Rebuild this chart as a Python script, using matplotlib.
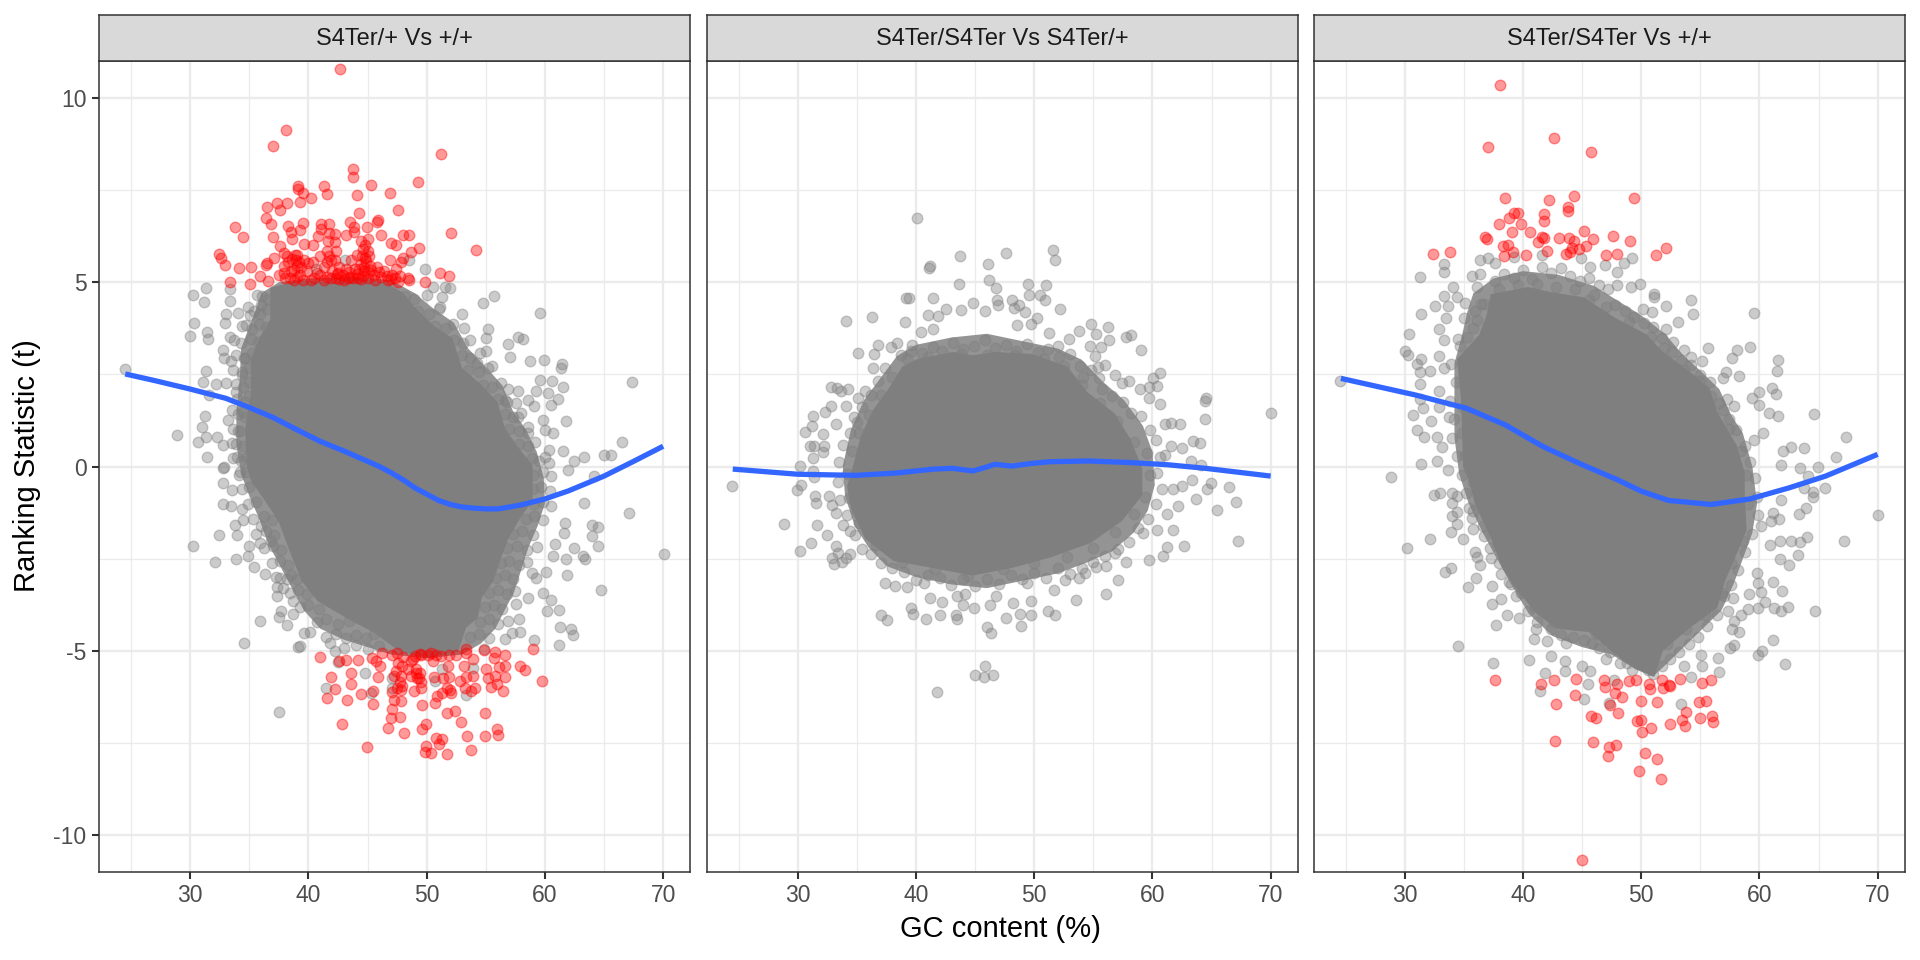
import numpy as np
import matplotlib
matplotlib.use('Agg')
import matplotlib.pyplot as plt

plt.rcParams['font.family'] = ['Liberation Sans', 'DejaVu Sans']

titles = ['S4Ter/+ Vs +/+', 'S4Ter/S4Ter Vs S4Ter/+', 'S4Ter/S4Ter Vs +/+']
x_major = [30, 40, 50, 60, 70]
x_minor = [25, 35, 45, 55, 65]
y_major = [-10, -5, 0, 5, 10]
y_minor = [-7.5, -2.5, 2.5, 7.5]
y_labels = ['-10', '-5', '0', '5', '10']

# outline of the area where the points overlap into solid grey
p1_core = [(37.0,4.79),(39.3,4.97),(41.94,4.92),(43.9,5.04),(46.55,4.9),(47.86,4.65),(48.85,4.25),(50.5,3.75),(51.97,3.43),(52.8,2.62),(54.44,2.17),(55.76,1.72),(56.41,1.0),(57.4,0.54),(58.72,0.0),(58.72,-0.36),(58.72,-0.9),(57.73,-1.35),(56.74,-1.89),(56.09,-2.43),(55.43,-3.07),(54.44,-3.52),(54.11,-4.06),(53.13,-4.33),(52.47,-4.96),(50.16,-5.1),(47.86,-4.96),(45.56,-4.42),(43.91,-4.15),(40.95,-3.6),(39.64,-3.07),(38.82,-2.43),(37.66,-1.44),(36.35,-0.81),(35.36,-0.36),(35.03,0),(34.87,0.99),(35.36,1.99),(35.36,2.89),(36.02,3.43),(37.0,3.97)]
p2_core = [(34.9,0),(35.56,0.8),(36.55,1.48),(37.86,2.06),(39.01,2.65),(40.16,2.84),(43.13,3.03),(44.77,2.94),(46.74,3.03),(49.7,2.98),(52.66,2.65),(54.31,1.97),(56.61,1.39),(57.93,0.71),(58.91,-0.07),(58.91,-0.75),(57.27,-1.42),(54.64,-2.01),(51.35,-2.39),(48.06,-2.68),(44.77,-2.88),(41.48,-2.68),(38.19,-2.49),(35.89,-1.91),(34.74,-1.13),(34.41,-0.55)]
p3_core = [(37.47,4.61),(40.43,4.79),(42.4,4.65),(45.03,4.52),(47.66,3.97),(50.3,3.52),(51.61,3.07),(54.24,2.44),(55.56,2.08),(56.22,1.45),(57.86,0.54),(58.52,-0.18),(58.52,-0.81),(58.68,-1.71),(57.86,-2.34),(56.88,-3.07),(56.22,-3.79),(53.91,-4.33),(51.61,-4.96),(50.97,-5.6),(49.65,-5.42),(48,-5.05),(45.69,-4.42),(43.05,-4.33),(41.41,-3.97),(39.77,-3.34),(38.45,-2.71),(37.47,-1.89),(36.15,-0.99),(35.66,-0.36),(35.17,0),(35,1.81),(34.67,2.89),(36.48,3.52),(37.14,4.07)]

# wider outline of the band where the points still overlap heavily
p1_band = [(36,4.7),(37.5,5.0),(40,5.1),(44,5.15),(47,5.05),(49,4.7),(50.5,4.3),(52.3,3.9),(53.5,3.2),(55,2.7),(56.4,2.2),(57.3,1.5),(58.4,1.0),(59.3,0.4),(59.9,-0.3),(60,-1),(59.4,-1.6),(58.6,-2.2),(58,-2.8),(57.4,-3.4),(56.6,-3.9),(55.8,-4.4),(54.6,-4.8),(53,-5.1),(50,-5.2),(47,-5.1),(45,-4.9),(43,-4.7),(41,-4.4),(39.6,-3.9),(38.6,-3.3),(37.6,-2.7),(36.6,-2.1),(35.8,-1.4),(35,-0.8),(34.3,-0.2),(33.9,0.6),(33.9,1.5),(34.2,2.4),(34.3,3.2),(35,3.8),(35.6,4.3)]
p2_band = [(33.8,0),(34.5,1.0),(35.6,1.8),(37,2.4),(38.4,3.0),(40,3.3),(43,3.5),(46,3.6),(49,3.4),(52,3.2),(54,2.9),(55.8,2.3),(57.6,1.8),(59.2,1.1),(60,0.4),(60.2,-0.5),(59.6,-1.2),(58.4,-1.8),(56.6,-2.3),(54.5,-2.6),(52,-2.9),(49,-3.1),(46,-3.3),(43,-3.2),(40,-3.0),(37.5,-2.7),(36,-2.2),(34.8,-1.6),(34,-0.8)]
p3_band = [(35.8,4.7),(37.5,5.1),(40,5.3),(43,5.2),(46,4.9),(48,4.5),(50,4.1),(52,3.6),(53.6,3.0),(55,2.6),(56.6,2.1),(57.6,1.4),(58.6,0.9),(59.4,0),(59.8,-1),(59.4,-1.8),(58.6,-2.5),(57.8,-3.2),(56.8,-3.9),(55.2,-4.4),(53.6,-4.9),(52,-5.4),(51,-5.7),(49.5,-5.5),(47.5,-5.1),(45,-4.9),(42.5,-4.6),(40.5,-4.0),(39,-3.2),(37.8,-2.5),(36.6,-1.8),(35.4,-1),(34.6,-0.2),(34.2,0.8),(34.2,1.8),(34.2,2.8),(34.8,3.5),(35.3,4.2)]

p1_grey = [(31.3,4.83),(30.26,4.66),(31.15,4.45),(33.32,4.82),(33.32,4.49),(35.63,4.66),(36.02,4.38),(34.87,4.34),(55.66,4.62),(54.77,4.43),(59.6,4.17),(50.5,4.88),(51.55,4.88),(51.97,4.83),(51.3,4.6),(51.15,4.34),(52.96,4.13),(30.33,3.88),(30.0,3.54),(31.41,3.64),(31.51,3.45),(33.06,4.14),(34.05,4.16),(32.9,3.88),(33.4,3.5),(35.03,4.11),(34.7,3.84),(32.73,3.16),(32.83,2.95),(33.45,2.85),(34.54,2.94),(55.2,3.73),(53.13,3.77),(53.62,3.43),(55.03,3.48),(57.73,3.5),(58.16,3.47),(56.9,3.32),(55.03,3.12),(59.93,2.89),(58.72,2.87),(61.45,2.78),(61.35,2.66),(57.07,2.96),(54.28,2.82),(55.5,2.73),(67.34,2.29),(59.6,2.35),(60.59,2.32),(61.51,2.15),(56.9,2.1),(57.73,2.06),(59.28,2.05),(60.3,1.99),(61.09,1.82),(58.55,1.81),(56.58,1.81),(57.57,1.72),(59.05,1.63),(60.5,1.67),(61.74,1.24),(59.87,1.26),(57.73,1.35),(60.69,0.9),(58.55,0.9),(60.03,0.99),(66.51,0.66),(64.97,0.32),(65.56,0.3),(63.32,0.25),(62.5,0.14),(61.51,0.43),(60.36,0.45),(60.36,0.09),(61.99,-0.09),(64.14,-0.27),
           (24.5,2.65),(31.3,2.59),(31.08,2.3),(32.14,2.23),(33.06,2.26),(33.88,2.03),(31.58,1.94),(34.37,2.48),(33.55,1.54),(31.25,1.36),(31.02,1.08),(28.88,0.86),(30.69,0.66),(31.32,0.79),(32.24,0.81),(32.73,0.59),(33.55,0.65),(31.41,0.25),(33.98,0.27),(32.89,0),(32.73,-0.05),(34.2,-0.14),(33.22,1.26),(34.05,0.95),(34.5,1.49),(35,1.9),
           (32.73,-0.45),(33.55,-0.63),(32.73,-1.01),(33.45,-1.06),(34.38,-1.15),(34.47,-1.44),(33.78,-1.6),(36.02,-1.62),(32.4,-1.85),(33.98,-1.85),(30.23,-2.16),(34.93,-2.16),(35.89,-2.07),(36.79,-2.03),(32.11,-2.59),(33.85,-2.52),(34.87,-2.43),(35.36,-2.72),(36.28,-2.91),(37.27,-3.0),(38.16,-3.05),(37.34,-3.27),(37.84,-3.29),(37.34,-3.52),(38.66,-3.65),(37.67,-3.91),(37.5,-4.09),(38.66,-4.0),(35.89,-4.18),(38.16,-4.29),(39.64,-4.51),(40.16,-4.49),(34.54,-4.8),(39.08,-4.9),(39.3,-4.86),(41.78,-4.78),(42.27,-5.01),(42.5,-5.31),(44.77,-5.6),(41.45,-6.02),(45.3,-6.14),(47.03,-6.0),(47.03,-5.73),(50.66,-5.82),(51.32,-5.5),(53.95,-5.46),(53.35,-6.21),(37.5,-6.66),
           (63.32,-0.99),(67.1,-1.26),(63.98,-1.58),(64.47,-1.65),(63.98,-1.89),(64.47,-2.16),(62.43,-2.21),(61.68,-1.53),(61.58,-1.8),(60.86,-2.1),(70.07,-2.38),(63.26,-2.42),(63.39,-2.52),(61.74,-2.52),(60.69,-2.42),(60.1,-2.87),(58.88,-2.9),(59.21,-3.02),(61.84,-2.93),(64.7,-3.36),(59.87,-3.43),(60.53,-3.61),(60.2,-3.91),(61.18,-3.88),(58.55,-3.56),(57.56,-3.74),(57.79,-4.13),(56.9,-4.19),(61.25,-4.35),(62.24,-4.42),(62.4,-4.58),(57.89,-4.48),(57.23,-4.51),(59.05,-4.72),(61.18,-4.83),(56.58,-4.69),(54.84,-4.96),
           (43.1,5.6),(48.5,5.6),(40.6,5.37),(49.84,5.37)]
# points packed along the edge of the solid area
p1_edge = [(36.1,4.62),(36.6,4.55),(35.4,4.22),(35.9,4.15),(36.5,4.27),(34.4,3.82),(35.2,3.74),(35.8,3.86),(36.4,3.78),(33.7,3.42),(34.3,3.35),(35.1,3.47),(35.7,3.38),(33.9,3.02),(34.6,2.95),(35.2,3.08),(33.6,2.63),(34.4,2.55),(35.0,2.68),(33.9,2.23),(34.5,2.15),(35.0,2.28),(33.95,1.82),(34.6,1.74),(34.0,1.42),(34.6,1.35),(33.6,1.03),(34.2,0.96),(33.9,0.62),(34.5,0.55),(33.6,0.22),(34.3,0.15),(34.8,0.27),(34.1,-0.22),(34.7,-0.15),(34.4,-0.62),(35.0,-0.55),(34.9,-1.02),(35.6,-0.95),(35.3,-1.42),(36.2,-1.35),(36.9,-1.46),(35.6,-1.82),(36.4,-1.75),(37.1,-1.86),(36.2,-2.22),(37.0,-2.15),(37.7,-2.26),(36.9,-2.62),(37.6,-2.55),(38.3,-2.66),(37.6,-3.02),(38.5,-2.95),(39.0,-3.06),(38.4,-3.42),(39.1,-3.35),(39.9,-3.46),(39.3,-3.82),(40.0,-3.75),(40.9,-3.86),(40.7,-4.22),(41.5,-4.15),(42.5,-4.26),(43.4,-4.18),(41.5,-4.62),(42.3,-4.55),(43.2,-4.66),(44.0,-4.58),(44.9,-4.64),(45.5,-4.55),(43.0,-4.92),(44.0,-4.85),(45.0,-4.95),(46.0,-4.88),
           (48.2,4.62),(48.9,4.55),(50.0,4.66),(49.3,4.22),(50.2,4.15),(51.0,4.27),(50.7,3.82),(51.6,3.75),(52.2,3.86),(52.3,3.42),(53.1,3.35),(53.0,3.02),(53.7,2.95),(54.5,3.07),(53.5,2.62),(54.4,2.55),(55.2,2.66),(54.8,2.22),(55.5,2.15),(56.3,2.26),(56.0,1.82),(56.8,1.75),(56.6,1.42),(57.3,1.35),(58.0,1.46),(57.0,1.02),(57.8,0.95),(58.6,1.06),(57.8,0.62),(58.6,0.55),(59.2,0.66),(58.9,0.22),(59.5,0.15),(60.0,0.26),(59.0,-0.22),(59.8,-0.15),(60.5,-0.26),(59.0,-0.62),(59.7,-0.55),(60.4,-0.66),(59.1,-1.02),(59.8,-0.95),(60.5,-1.06),(58.4,-1.42),(59.1,-1.35),(59.8,-1.46),(57.3,-1.82),(58.1,-1.75),(59.0,-1.86),(56.8,-2.22),(57.6,-2.15),(58.5,-2.26),(59.3,-2.18),(56.3,-2.62),(57.0,-2.55),(57.8,-2.66),(58.5,-2.58),(55.9,-3.02),(56.6,-2.95),(57.3,-3.06),(55.3,-3.42),(56.0,-3.35),(56.8,-3.46),(57.5,-3.38),(54.9,-3.82),(55.7,-3.75),(56.4,-3.86),(54.5,-4.22),(55.3,-4.15),(56.0,-4.26),(53.7,-4.62),(54.4,-4.55),(55.3,-4.66)]
p1_red = [(42.66,10.78),(38.09,9.13),(37.04,8.70),(51.25,8.48),(43.78,8.07),(43.78,7.86),(39.11,7.62),(39.14,7.54),(41.32,7.61),(45.3,7.64),(49.28,7.71),(39.57,7.43),(41.55,7.39),(44.08,7.36),(46.9,7.42),(40.23,7.29),(39.28,7.17),(38.19,7.16),(37.3,7.15),(36.51,7.05),(37.6,6.97),(47.57,6.96),(44.28,6.88),(36.38,6.75),(36.81,6.59),(45.86,6.7),(45.76,6.63),(33.82,6.5),(34.5,6.23),(38.26,6.52),(39.57,6.61),(41.05,6.58),(41.74,6.59),(43.55,6.62),(43.85,6.5),(44.93,6.49),(41.02,6.45),(39.31,6.41),(38.52,6.37),(43.85,6.37),(41.71,6.34),(52.07,6.34),(40.82,6.25),(42.2,6.32),(43.16,6.28),(46.15,6.27),(47.96,6.27),(48.49,6.29),(37.01,6.23),(38.59,6.18),(41.61,6.12),(42.27,6.1),(44.41,6.12),(45.07,6.16),(46.94,6.05),(47.4,6.02),(39.64,6.03),(40.36,6.01),(44.77,6.01),(37.57,5.98),(49.38,5.94),(48.68,5.81),(54.21,5.86),(32.4,5.76),(32.57,5.65),(32.96,5.47),(34.14,5.39),(35.13,5.41),(36.41,5.46),(36.5,5.51),(37.07,5.65),(37.89,5.78),(38.82,5.74),(38.98,5.6),
          (37.5,5.2),(37.9,5.45),(38.0,5.1),(38.3,5.55),(38.5,5.3),(38.8,5.05),(39.0,5.75),(39.0,5.45),(39.3,5.2),(39.6,5.6),(39.9,5.3),(40.2,5.05),(40.4,5.55),(40.7,5.25),(41.0,5.7),(41.3,5.4),(41.6,5.15),(41.6,5.85),(41.9,5.6),(42.0,5.3),(42.3,5.85),(42.3,5.1),(42.6,5.4),(42.9,5.2),(43.2,5.35),(43.5,5.15),(43.6,5.6),(43.9,5.35),(44.1,5.75),(44.2,5.1),(44.4,5.5),(44.6,5.9),(44.7,5.3),(44.8,5.65),(45.0,5.85),(45.0,5.1),(45.2,5.45),(45.5,5.2),(45.8,5.4),(46.1,5.15),(46.4,5.3),(46.7,5.05),(46.9,5.6),(47.1,5.2),(47.4,5.35),(47.6,5.0),(47.8,5.55),(48.0,5.65),
          (41.3,5.05),(41.9,5.12),(42.4,5.22),(42.6,5.08),(43.0,5.05),(43.4,5.28),(43.8,5.12),(44.1,5.22),(44.4,5.08),(44.6,5.18),(44.7,5.42),(44.9,5.58),(45.0,5.28),(45.1,5.72),(45.3,5.32),(44.5,5.72),(44.3,5.35),(45.6,5.06),(46.0,5.28),(46.6,5.18),(47.0,5.08),(47.3,5.12),(47.7,5.18),(39.0,5.15),(39.5,5.05),(40.5,5.12),(41.0,5.2),(38.4,5.12),(37.9,5.25),(38.8,5.32),(39.4,5.42),(40.0,5.52),(41.6,5.55),(41.7,5.72),(42.2,5.6),(42.5,5.25),(43.3,5.12),(38.2,5.72),(38.6,5.62),(39.2,5.55),
          (51.15,5.26),(51.9,5.18),(49.84,5.0),(48.42,5.1),(48.5,5.07),(33.32,5.0),(35.07,4.95),(35.92,5.17),(36.58,5.03),
          (40.95,-5.16),(42.6,-5.28),(43.16,-5.26),(44.18,-5.25),(45.39,-5.19),(46.22,-5.07),(45.72,-5.28),(47.03,-5.1),(46.05,-5.42),(47.53,-5.33),(47.37,-5.55),(41.88,-5.7),(43.62,-5.61),(43.59,-5.89),(45.89,-5.71),(47.2,-5.69),(47.86,-5.69),(48.68,-5.69),(49.11,-5.6),(49.35,-5.73),(48.68,-5.28),(49.51,-5.1),(50.82,-5.1),(48.85,-5.23),(50.49,-5.28),(51.8,-5.42),(51.87,-5.7),(52.8,-5.82),(53.3,-4.96),(53.3,-5.05),(53.13,-5.42),(53.95,-5.23),(53.36,-5.7),(53.95,-5.69),(54.84,-4.98),(55.76,-5.03),(56.58,-5.12),(55.7,-5.19),(55.03,-5.49),(56.58,-5.42),(56.09,-5.43),(55.16,-5.75),(55.76,-5.69),(56.58,-5.7),(55.43,-5.98),(55.93,-5.89),(56.48,-6.09),(57.89,-5.4),(58.29,-5.53),(59.01,-4.95),(59.77,-5.82),
          (42.27,-6.03),(41.55,-6.27),(43.26,-6.34),(44.41,-6.16),(45.43,-6.09),(45.49,-6.45),(47.03,-6.11),(47.86,-6.05),(48.95,-6.09),(49.51,-6),(47.27,-6.34),(47.8,-6.36),(49.57,-6.48),(50.72,-6.41),(50.89,-6.23),(51.32,-6.14),(52.07,-6.14),(53.22,-6.02),(54.11,-6.02),(53.72,-6.09),(47.03,-6.59),(46.94,-6.82),(47.73,-6.8),(42.83,-6.98),(46.74,-7.1),(48.06,-7.22),(49.64,-7.13),(49.97,-6.98),(51.74,-6.68),(52.4,-6.62),(52.86,-6.93),(54.9,-6.68),(55.92,-7.13),(56.02,-7.29),(54.9,-7.31),(53.39,-7.31),(50.82,-7.36),(51.32,-7.38),(51.05,-7.52),(44.97,-7.6),(49.93,-7.58),(49.84,-7.75),(50.33,-7.76),(51.71,-7.81),(53.72,-7.68),
          (49.0,-5.15),(49.4,-5.08),(50.1,-5.12),(50.4,-5.06),(51.2,-5.15),(51.9,-5.1),(52.5,-5.12),(47.5,-5.05),(48.0,-5.18),(47.9,-5.4),(48.4,-5.5),(49.2,-5.75),(49.5,-5.85),(49.4,-5.6),(49.1,-5.5),(50.6,-5.7),(51.4,-5.75),(51.7,-6),(52,-6.05),(47.7,-5.85),(47.5,-6.0),(47.9,-5.95)]

p2_grey = [(40.07,6.73),(51.55,5.86),(51.74,5.6),(47.6,5.78),(43.75,5.72),(46.05,5.5),(41.22,5.43),(41.09,5.39),(46.15,5.05),(43.65,4.95),(49.47,4.96),(50.99,4.91),(46.74,4.85),(39.14,4.58),(39.44,4.58),(41.41,4.58),(49.54,4.66),(50.53,4.66),(46.84,4.53),(50.95,4.52),(44.84,4.43),(48.13,4.51),(48.72,4.37),(46.91,4.37),(52.17,4.28),(48.32,4.29),(49.21,4.18),(45.86,4.22),(42.53,4.27),(43.78,4.24),(40.99,4.12),(41.88,4.07),(34.11,3.95),(36.25,4.05),(39.08,3.91),(50.2,4.02),(54.77,3.86),(56.22,3.79),(48.55,3.83),(49.7,3.86),(51.28,3.62),(53.82,3.68),(55.23,3.6),(58.19,3.58),(57.76,3.52),(40.43,3.64),(41.48,3.74),(52.93,3.45),(56.35,3.42),(36.81,3.29),(35.07,3.09),(36.45,3.06),(37.86,3.23),(38.36,3.35),(39.67,3.3),(59.01,3.16),(52.0,3.28),(54.74,3.28),(55.63,3.23),(55.13,3.01),(55.95,2.74),(55.36,2.69),(36.35,2.67),(60.63,2.54),(60.07,2.4),(60.39,2.19),(59.74,2.16),(58.98,2.09),(56.84,2.47),(57.43,2.26),(58.03,2.33),(54.14,2.43),(55.46,2.4),(32.8,2.15),(33.32,2.13),(33.68,2.06),(34.28,2.1),(35.72,2.04),(35.13,1.87),(59.67,1.87),(64.57,1.87),(64.44,1.79),(60.63,1.7),(70,1.46),(64.47,1.29),(32.83,1.65),(32.34,1.48),(31.28,1.37),(31.22,1.11),(30.63,0.94),(32.11,0.89),(33.26,1.14),(34.74,1.34),(34.08,1.63),(62.37,1.16),(61.55,1.19),(61.05,1.14),(63.42,0.69),(64.01,0.64),(31.02,0.56),(31.35,0.56),(32.2,0.56),(32.14,0.4),(31.28,0.24),(62.53,0.51),(61.55,0.56),(63.26,0.16),(64.08,0.03),(61.05,0.32),
           (30.2,0.01),(31.28,-0.12),(31.35,-0.28),(24.47,-0.52),(30.3,-0.5),(29.97,-0.63),(31.45,-0.81),(31.51,-0.99),(32.66,-0.79),(32.86,-1.04),(33.26,-1.25),(28.85,-1.57),(31.61,-1.6),(33.85,-1.6),(32.5,-1.85),(34.41,-1.76),(31.15,-2.07),(30.23,-2.28),(33.26,-2.15),(33.42,-2.34),(34.41,-2.37),(34.08,-2.49),(32.93,-2.49),(33.09,-2.65),(33.75,-2.59),
           (63.36,-0.36),(64.97,-0.44),(64.61,-0.62),(66.48,-0.55),(67.11,-0.97),(63.65,-0.89),(65.46,-1.18),(67.27,-2.03),(62.47,-0.52),(61.71,-0.6),(62.2,-1.08),(61.71,-1.72),(62.63,-2.15),(61.22,-2.18),(60.89,-2.42),(59.7,-2.54),(57.76,-2.59),(56.84,-2.34),(60.39,-1.73),(59.24,-1.81),(61.22,-1.28),
           (56.05,-3.46),(57.1,-3.07),(56.09,-2.7),(55.2,-2.73),(53.55,-3.63),(54.31,-2.88),(53.82,-3.02),(52.6,-3.07),(51.68,-3.34),
           (37.37,-3.17),(38.26,-3.24),(39.24,-3.27),(41.15,-3.56),(42.2,-3.67),(37.07,-4.04),(37.53,-4.17),(39.54,-3.83),(39.77,-3.99),(40.86,-4.15),(42.04,-4.02),(43.39,-4.02),(43.49,-4.14),(43.95,-3.77),(44.93,-3.83),(46.25,-3.75),(47.63,-4.12),(48.78,-4.0),(49.77,-4.02),(51.18,-3.92),(51.74,-4.02),(48.88,-4.33),(46.02,-4.36),(46.32,-4.53),(45.82,-5.42),(45,-5.66),(45.72,-5.7),(46.48,-5.65),(41.78,-6.13),(48.22,-3.7),(49.7,-3.65),(49.38,-3.17),(43.45,-3.51),(46.74,-3.51),(44.11,-3.46),(40.66,-3.17)]
p2_edge = [(38.7,3.02),(39.6,3.14),(40.5,3.08),(41.4,3.24),(42.2,3.12),(43.1,3.36),(44.0,3.18),(44.9,3.28),(45.8,3.44),(46.7,3.22),(47.6,3.3),(48.5,3.14),(49.4,3.32),(50.3,3.1),(51.2,3.18),(52.1,2.96),(53.0,3.04),(53.9,2.72),(54.8,2.62),(55.7,2.1),(56.6,1.92),(57.5,1.74),(58.2,1.46),(59.0,1.38),(59.8,0.98),(60.3,0.72),(60.6,0.26),(60.4,-0.18),(60.8,-0.62),(60.3,-1.02),(59.6,-1.42),(58.8,-1.66),(58.0,-2.06),(57.1,-2.24),(56.0,-2.42),(55.0,-2.58),(54.0,-2.74),(53.0,-2.92),(52.0,-2.76),(51.0,-3.02),(50.0,-2.88),(49.0,-3.04),(48.0,-2.94),(47.0,-3.18),(46.0,-3.06),(45.0,-3.24),(44.0,-3.04),(43.0,-3.22),(42.0,-3.02),(41.0,-2.94),(40.0,-3.08),(39.0,-2.86),(38.0,-2.76),(37.0,-2.62),(36.2,-2.38),(35.4,-2.24),(34.8,-1.86),(34.2,-1.32),(33.6,-0.92),(33.4,-0.42),(33.5,0.12),(33.8,0.58),(34.4,0.92),(35.0,1.22),(35.4,1.62),(36.2,1.94),(36.8,2.32),(37.4,2.66),
           (38.0,2.42),(39.2,2.92),(41.0,2.98),(43.8,3.06),(46.0,3.02),(48.4,3.02),(50.8,2.92),(52.5,2.72),(54.0,2.22),(55.6,1.72),(57.0,1.24),(58.4,0.66),(59.5,0.36),(59.8,-0.22),(59.4,-0.82),(58.4,-1.28),(56.8,-1.78),(55.0,-2.22),(52.8,-2.46),(50.0,-2.62),(47.4,-2.78),(44.4,-2.96),(41.6,-2.78),(38.8,-2.58),(36.6,-2.12),(35.2,-1.54),(34.3,-0.86),(34.2,-0.2),(34.6,0.42),(35.2,0.92),(36.0,1.4),(37.0,1.94)]

p3_grey = [(36.38,5.6),(37.07,5.65),(33.29,5.48),(33.32,5.28),(31.32,5.13),(35.72,5.18),(36.38,5.22),(37.63,5.51),(39.28,5.69),(41.58,5.74),(44.87,5.65),(45.69,5.42),(46.94,5.47),(48.55,5.51),(49.24,5.66),(47.96,5.28),(36.15,4.88),(34.11,4.86),(47.99,4.92),(49.9,4.95),(49.14,4.88),(33.36,4.63),(34.44,4.61),(35.1,4.44),(32.53,4.36),(33.62,4.35),(31.41,4.15),(51.12,4.68),(51.12,4.61),(54.24,4.53),(52.11,4.35),(54.34,4.14),(53.09,3.93),(59.57,4.17),(50.13,4.27),(50.95,4.2),(35.92,4.23),(36.48,4.41),(33.45,4.02),(35.0,4.02),(30.33,3.59),(32.86,3.72),(33.36,3.43),(34.51,3.46),(35.76,3.75),(52.11,3.72),(52.66,3.37),(53.59,3.16),(55.63,3.22),(54.18,2.96),(55.16,2.85),(58.13,3.16),(57.7,2.95),(59.24,3.25),(61.58,2.89),(61.48,2.6),(57.2,2.55),(58.29,2.46),(56.88,2.39),(30,3.14),(30.3,3.03),(31.38,2.91),(31.05,2.78),(32.93,3.0),(31.28,2.56),(32.14,2.59),(33.36,2.67),(31.28,2.23),(24.51,2.32),(32.86,2.06),(31.28,1.83),(31.55,1.6),(32.86,1.61),(30.69,1.39),(32.2,1.24),(33.75,1.35),(31.05,0.99),(31.61,0.79),(32.7,0.79),(33.19,0.54),(31.41,0.07),(32.7,0.14),(33.68,-0.09),(28.85,-0.29),(61.09,2.14),(61.41,1.96),(60.0,2.03),(59.34,1.85),(60,1.67),(57.86,1.63),(57.27,1.83),(61.61,1.38),(64.64,1.42),(60.82,1.45),(67.3,0.81),(66.51,0.25),(64.93,0),(63.78,0.5),(62.63,0.54),(61.97,0.43),(61.81,0.05),(63.39,-0.03),(64.11,-0.27),(59.5,0.72),(60.33,0.9),
           (32.47,-0.76),(32.96,-0.72),(34.01,-0.72),(34.44,-0.81),(34.01,-0.99),(35.43,-1.12),(34.44,-1.23),(34.01,-1.35),(35.66,-1.4),(34.44,-1.55),(33.95,-1.78),(35.76,-1.69),(32.14,-1.98),(34.93,-1.96),(30.23,-2.21),(36.71,-1.89),(35.92,-2.33),(36.15,-2.45),(37.3,-2.48),(33.95,-2.74),(33.42,-2.86),(36.35,-2.66),(35.99,-3.02),(35.33,-3.27),(37.4,-3.25),(38.13,-2.91),(38.95,-3.18),(38.13,-3.59),(37.4,-3.74),(38.68,-4.02),(39.67,-4.11),(37.73,-4.3),(41.09,-4.42),(40.96,-4.67),(42.07,-4.74),(34.54,-4.86),(42.4,-5.14),(37.5,-5.33),(40.49,-5.25),(43.64,-4.78),(45.8,-4.78),(41.89,-5.6),(43.54,-5.28),(43.54,-5.55),(45.03,-5.42),(45.69,-5.55),(47,-5.23),(48.82,-5.33),(50.97,-5.64),(53.61,-5.42),(54.18,-5.7),(55.16,-5.42),(56.54,-5.57),(55.06,-5.1),(56.47,-5.19),(57.53,-4.92),(57.86,-4.85),(59.84,-5.12),(60.23,-5.01),(62.2,-5.35),(61.15,-4.71),(58.27,-4.49),(57.7,-4.42),(57.86,-4.2),(57.37,-3.91),(58.45,-4.02),(59.01,-3.86),(59.9,-3.83),(60.49,-3.67),(61.25,-3.83),(61.81,-3.93),(62.4,-3.8),(64.7,-3.91),(59.08,-3.47),(60.1,-3.41),(57.8,-3.56),(61.15,-3.13),(61.88,-3.38),(59.77,-2.89),(59.84,-3.16),(61.74,-2.52),(62.47,-2.66),(63.29,-2.39),(60.89,-2.12),(61.71,-2.03),(62.7,-2.03),(63.39,-2.06),(64.01,-1.92),(67.14,-2.03),(70,-1.32),(63.36,-1.3),(63.95,-1.13),(64.51,-0.83),(64.54,-0.7),(65.53,-0.58),(63.78,-0.58),(61.64,-1.42),(60.99,-1.49),(61.15,-1.26),(61.81,-0.9),(60.16,-1.62),
           (41.48,-6.09),(45.2,-6.3),(47.24,-6.41),(53.39,-6.43),(45.5,-5.89),(47.73,-5.78)]
p3_edge = [(37.6,5.02),(38.4,5.22),(39.2,5.12),(40.0,5.32),(40.8,5.08),(41.6,5.42),(42.4,5.26),(43.2,5.38),(44.0,5.18),(44.8,5.04),(45.6,5.12),(46.4,4.92),(47.2,4.82),(38.0,4.82),(39.6,4.92),(41.2,4.94),(42.8,4.88),(44.4,4.82),(46.0,4.66),(47.8,4.38),(48.6,4.22),(49.4,4.06),(50.2,3.88),(51.0,3.78),(51.8,3.48),(52.6,3.1),(53.4,2.88),(54.2,2.74),(55.0,2.48),(55.8,2.28),(56.6,1.72),(57.4,1.28),(58.0,0.98),(58.8,0.56),(59.2,0.12),(59.6,-0.32),(59.8,-0.82),(59.9,-1.32),(59.4,-1.82),(58.8,-2.32),(58.2,-2.82),(57.6,-3.22),(57.0,-3.52),(56.4,-4.02),(55.6,-4.32),(54.8,-4.62),(54.0,-4.82),(53.2,-5.02),(52.4,-5.22),(51.8,-5.42),(50.6,-5.52),(49.2,-5.52),(48.2,-5.32),(47.4,-5.02),(46.4,-4.92),(45.2,-4.72),(44.2,-4.62),(43.2,-4.58),(42.4,-4.42),(41.2,-4.22),(40.4,-3.92),(39.4,-3.52),(38.8,-3.12),(38.0,-2.62),(37.2,-2.22),(36.6,-1.62),(35.8,-1.22),(35.2,-0.72),(34.8,-0.22),(34.4,0.28),(34.0,0.78),(34.2,1.28),(33.8,1.78),(34.3,2.28),(33.9,2.78),(34.7,3.28),(35.3,3.52),(36.1,3.98),(36.7,4.42),(35.8,3.02),(35.0,2.52),(34.9,1.62),(34.8,0.92),(35.1,0.32),(35.8,-0.42),(36.6,-0.82),(37.1,-1.42),(38.0,-2.12),(38.9,-2.72),(39.8,-3.42),(41.0,-3.82),(42.6,-4.22),(44.4,-4.28),(46.2,-4.52),(47.6,-4.82),(49.4,-5.22),(51.0,-5.22),(52.2,-4.82),(53.8,-4.42),(55.4,-4.02),(56.8,-3.42),(57.6,-2.62),(58.6,-2.02),(59.0,-1.02),(58.9,-0.22),(58.4,0.42),(57.4,1.02),(56.9,1.52),(55.9,1.92),(54.9,2.32),(53.6,2.62),(51.9,3.22),(50.8,3.52),(49.0,3.92),(47.0,4.32),(45.6,4.52)]
p3_red = [(38.09,10.35),(37.04,8.66),(42.66,8.9),(45.76,8.53),(38.49,7.29),(42.17,7.22),(44.28,7.34),(49.38,7.28),(43.78,7.03),(43.78,6.94),(41.74,6.86),(41.81,6.67),(39.28,6.87),(39.61,6.88),(38.85,6.74),(37.93,6.59),(39.87,6.58),(39.08,6.37),(40.59,6.37),(45.2,6.38),(36.81,6.22),(36.97,6.16),(41.64,6.23),(41.74,6.21),(41.28,6.1),(43.06,6.2),(43.85,6.21),(44.31,6.12),(45.89,6.18),(47.6,6.25),(49.01,6.12),(38.29,5.98),(38.72,6.02),(39.18,5.83),(38.39,5.72),(40.26,5.74),(42.07,5.85),(44.11,5.94),(44.7,5.9),(45.3,5.99),(43.98,5.83),(43.65,5.76),(47.04,5.75),(47.93,5.76),(51.25,5.74),(52.07,5.92),(32.4,5.77),(33.85,5.83),
          (37.6,-5.78),(41.55,-5.91),(42.66,-5.8),(44.51,-5.77),(44.41,-6.21),(42.8,-6.45),(46.81,-5.78),(46.94,-5.98),(47.99,-5.89),(47.8,-6.14),(48.39,-6.25),(48.98,-5.82),(49.57,-5.78),(50.69,-5.91),(50.72,-6.03),(51.78,-5.78),(51.84,-6.02),(52.33,-5.94),(52.43,-5.96),(53.29,-5.76),(55.16,-5.87),(55.88,-5.78),(49.97,-6.35),(51.35,-6.38),(54.9,-6.38),(55.46,-6.35),(47.34,-6.47),(48.06,-6.7),(45.76,-6.76),(46.18,-6.82),(49.64,-6.91),(50,-6.88),(50.07,-7.2),(50.86,-7.09),(52.43,-6.98),(53.42,-6.88),(53.82,-6.66),(53.68,-7.05),(54.93,-6.81),(55.95,-6.77),(56.05,-6.93),(42.73,-7.45),(45.92,-7.48),(47.27,-7.6),(47.83,-7.56),(47.2,-7.84),(50.33,-7.76),(51.35,-7.94),(49.84,-8.26),(51.68,-8.49),(45.0,-10.68)]

# fitted lines
p1_line = [(24.5,2.51),(27,2.33),(30,2.1),(33,1.85),(35,1.6),(37,1.33),(39,1.0),(41,0.68),(43,0.42),(45,0.14),(46,0.0),(47,-0.17),(48,-0.36),(49,-0.58),(50,-0.75),(51,-0.92),(52,-1.03),(53,-1.1),(54,-1.13),(55,-1.15),(56,-1.15),(57,-1.1),(58,-1.04),(60,-0.88),(62,-0.66),(65,-0.26),(67.5,0.14),(70,0.55)]
p2_line = [(24.5,-0.07),(30,-0.21),(34.9,-0.24),(38.2,-0.18),(41.5,-0.07),(43.1,-0.05),(44.8,-0.12),(45.6,-0.05),(46.7,0.06),(48.1,0.01),(49.7,0.08),(51.3,0.13),(54.6,0.15),(57.9,0.11),(61.2,0.05),(64.5,-0.05),(70,-0.26)]
p3_line = [(24.6,2.39),(30.9,1.94),(35.2,1.58),(38.5,1.13),(41.7,0.54),(45,0.05),(48,-0.36),(50,-0.67),(52.3,-0.92),(55.9,-1.03),(59.2,-0.88),(62.5,-0.58),(65.6,-0.26),(70,0.33)]

panels = [(p1_band, p1_core, p1_grey + p1_edge, p1_red, p1_line),
          (p2_band, p2_core, p2_grey + p2_edge, [], p2_line),
          (p3_band, p3_core, p3_grey + p3_edge, p3_red, p3_line)]
lefts = [99.0, 706.5, 1313.5]

W, H = 1920, 960
fig = plt.figure(figsize=(W / 100, H / 100), dpi=100, facecolor='white')

for i, (band, core, grey, red, line) in enumerate(panels):
    ax = fig.add_axes([lefts[i] / W, 1 - 872 / H, 591 / W, 811 / H])
    strip = fig.add_axes([lefts[i] / W, 1 - 61 / H, 591 / W, 46 / H])

    strip.set_facecolor('#d9d9d9')
    strip.set_xticks([])
    strip.set_yticks([])
    for s in strip.spines.values():
        s.set_color('#333333')
        s.set_linewidth(1.1)
    strip.text(0.5, 0.47, titles[i], ha='center', va='center', fontsize=17,
               color='#1a1a1a', transform=strip.transAxes)

    ax.set_xlim(22.28, 72.27)
    ax.set_ylim(-11, 11)
    ax.set_xticks(x_major)
    ax.set_xticks(x_minor, minor=True)
    ax.set_yticks(y_major)
    ax.set_yticks(y_minor, minor=True)
    ax.grid(which='major', color='#ebebeb', linewidth=1.7)
    ax.grid(which='minor', color='#ebebeb', linewidth=0.9)
    ax.set_axisbelow(True)
    ax.tick_params(which='minor', length=0)
    ax.tick_params(axis='x', which='major', length=5, width=1.5, color='#333333',
                   labelsize=16.5, labelcolor='#4d4d4d', pad=4)
    if i == 0:
        ax.tick_params(axis='y', which='major', length=5, width=1.5, color='#333333',
                       labelsize=16.5, labelcolor='#4d4d4d', pad=4)
        ax.set_yticklabels(y_labels)
    else:
        ax.tick_params(axis='y', which='both', left=False, labelleft=False)
    for s in ax.spines.values():
        s.set_color('#333333')
        s.set_linewidth(1.1)

    band = np.array(band)
    ax.fill(band[:, 0], band[:, 1], color='#949494', linewidth=0, zorder=2)
    core = np.array(core)
    ax.fill(core[:, 0], core[:, 1], color='#7f7f7f', linewidth=4, zorder=2)
    grey = np.array(grey)
    ax.scatter(grey[:, 0], grey[:, 1], s=58, color='#7f7f7f', alpha=0.4, linewidths=1, zorder=3)
    if len(red):
        red = np.array(red)
        ax.scatter(red[:, 0], red[:, 1], s=58, color='#ff0000', alpha=0.4, linewidths=1, zorder=4)
    line = np.array(line)
    ax.plot(line[:, 0], line[:, 1], color='#3366ff', linewidth=3.8, zorder=5,
            solid_capstyle='butt')

fig.text(1000 / W, 1 - 929 / H, 'GC content (%)', ha='center', va='center', fontsize=21)
fig.text(27 / W, 1 - 466 / H, 'Ranking Statistic (t)', ha='center', va='center',
         rotation=90, fontsize=21)

fig.savefig('out.png', dpi=100)
